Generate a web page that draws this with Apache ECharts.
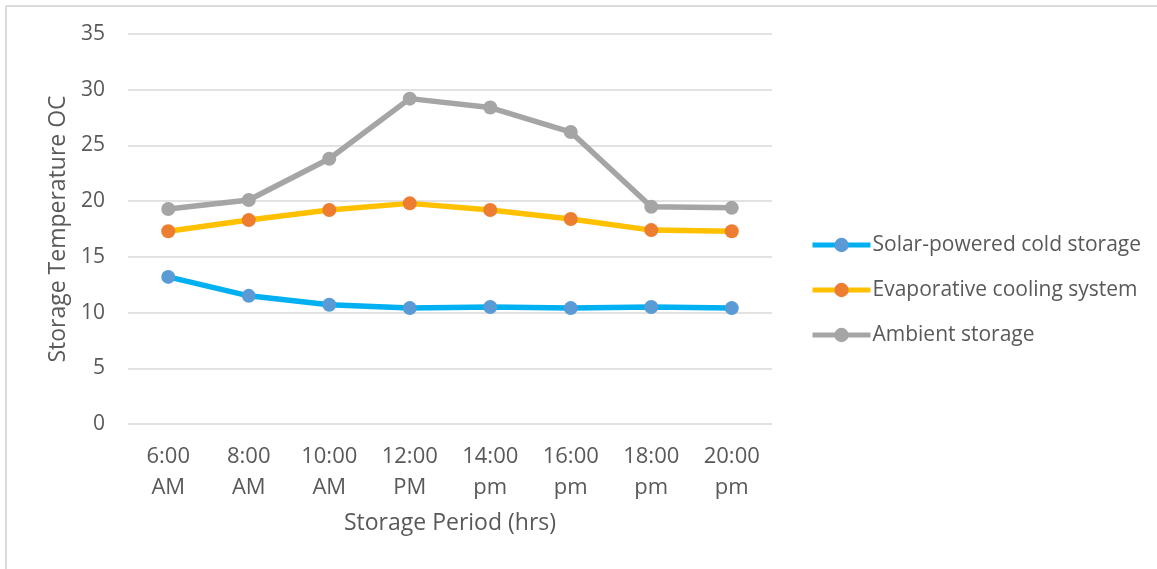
<!DOCTYPE html>
<html>
<head>
<meta charset="utf-8">
<script src="https://cdn.jsdelivr.net/npm/echarts@6/dist/echarts.min.js"></script>
<style>
  html, body { margin: 0; padding: 0; background: #fff; }
  #chart { width: 1157px; height: 569px; }
</style>
</head>
<body>
<div id="chart"></div>
<script>
// Storage temperature over the day for three storage methods
const periods = ['6:00\nAM', '8:00\nAM', '10:00\nAM', '12:00\nPM', '14:00\npm', '16:00\npm', '18:00\npm', '20:00\npm'];
const solarCold = [13.2, 11.5, 10.7, 10.4, 10.5, 10.4, 10.5, 10.4];
const evaporative = [17.3, 18.3, 19.2, 19.8, 19.2, 18.4, 17.4, 17.3];
const ambient = [19.3, 20.1, 23.8, 29.2, 28.4, 26.2, 19.5, 19.4];
const seriesNames = ['Solar-powered cold storage', 'Evaporative cooling system', 'Ambient storage'];

const FONT = '"Open Sans", "Liberation Sans", sans-serif';
const TEXT = '#595959';

function lineSeries(name, data, lineColor, markerColor) {
  return {
    name: name,
    type: 'line',
    data: data,
    symbol: 'circle',
    symbolSize: 14,
    lineStyle: { color: lineColor, width: 5.5 },
    itemStyle: { color: markerColor },
    emphasis: { disabled: true }
  };
}

const chart = echarts.init(document.getElementById('chart'));
chart.setOption({
  backgroundColor: '#fff',
  animation: false,
  textStyle: { fontFamily: FONT },
  grid: { left: 128, right: 385, top: 34, bottom: 145 },
  graphic: [
    { type: 'line', shape: { x1: 6, y1: 6, x2: 1157, y2: 6 }, style: { stroke: '#D9D9D9', lineWidth: 2 } },
    { type: 'line', shape: { x1: 6, y1: 6, x2: 6, y2: 569 }, style: { stroke: '#D9D9D9', lineWidth: 2 } }
  ],
  legend: {
    orient: 'vertical',
    left: 810,
    top: 233,
    padding: 0,
    itemGap: 21,
    itemWidth: 58,
    itemHeight: 18,
    lineStyle: { width: 5 },
    textStyle: { color: TEXT, fontSize: 21, lineHeight: 24, fontFamily: FONT, padding: [0, 0, 0, -3] },
    data: seriesNames
  },
  xAxis: {
    type: 'category',
    data: periods,
    boundaryGap: true,
    axisLine: { show: false },
    axisTick: { show: false },
    axisLabel: { color: TEXT, fontSize: 22, lineHeight: 31, margin: 17, interval: 0, fontFamily: FONT },
    name: 'Storage Period (hrs)',
    nameLocation: 'middle',
    nameGap: 88,
    nameTextStyle: { color: TEXT, fontSize: 23, fontFamily: FONT }
  },
  yAxis: {
    type: 'value',
    min: 0,
    max: 35,
    interval: 5,
    axisLine: { show: false },
    axisTick: { show: false },
    axisLabel: { color: TEXT, fontSize: 21, margin: 23, fontFamily: FONT },
    splitLine: { lineStyle: { color: '#D9D9D9', width: 1.5 } },
    name: 'Storage Temperature OC',
    nameLocation: 'middle',
    nameGap: 57,
    nameRotate: 90,
    nameTextStyle: { color: TEXT, fontSize: 23, fontFamily: FONT }
  },
  series: [
    lineSeries(seriesNames[0], solarCold, '#00B0F0', '#5B9BD5'),
    lineSeries(seriesNames[1], evaporative, '#FFC000', '#ED7D31'),
    lineSeries(seriesNames[2], ambient, '#A5A5A5', '#A5A5A5')
  ]
});
</script>
</body>
</html>
